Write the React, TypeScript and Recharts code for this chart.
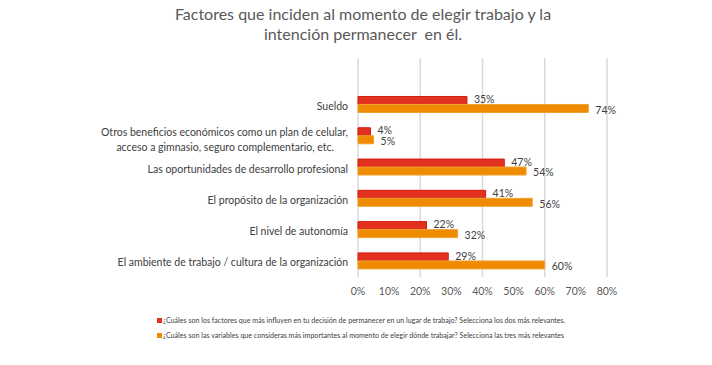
import React from "react"
import { Bar, BarChart, CartesianGrid, LabelList, XAxis, YAxis } from "recharts"

// categories, top to bottom (first row is empty, as in the original)
const categories = [
    "",
    "Sueldo",
    "Otros beneficios económicos como un plan de celular,|acceso a gimnasio, seguro complementario, etc.",
    "Las oportunidades de desarrollo profesional",
    "El propósito de la organización",
    "El nivel de autonomía",
    "El ambiente de trabajo / cultura de la organización",
]

const permanecer = [null, 35, 4, 47, 41, 22, 29]
const elegir = [null, 74, 5, 54, 56, 32, 60]

const xTicks = [0, 10, 20, 30, 40, 50, 60, 70, 80]

const seriesNames = [
    "¿Cuáles son los factores que más influyen en tu decisión de permanecer en un lugar de trabajo? Selecciona los dos más relevantes.",
    "¿Cuáles son las variables que consideras más importantes al momento de elegir dónde trabajar? Selecciona las tres más relevantes",
]

const RED = "#E2321F"
const ORANGE = "#EE8B00"
const FONT = "Lato, 'Open Sans', sans-serif"

const data = categories.map((name, i) => ({
    name,
    permanecer: permanecer[i],
    elegir: elegir[i],
}))

const fmt = (v: any) => (v == null ? "" : `${v}%`)

function CategoryTick({ x, y, payload }: any) {
    const lines = String(payload.value).split("|")
    if (lines.length === 1) {
        return (
            <text x={x} y={y} dy={5} textAnchor="end" fill="#404040" fontSize={10.5} fontFamily={FONT}>
                {lines[0]}
            </text>
        )
    }
    return (
        <text textAnchor="end" fill="#404040" fontSize={10.5} fontFamily={FONT}>
            <tspan x={x} y={y}>{lines[0]}</tspan>
            <tspan x={x - 14} y={y + 15}>{lines[1]}</tspan>
        </text>
    )
}

export default function App() {
    return (
        <div style={{ position: "absolute", left: 0, top: 0, width: 712, height: 365, background: "#fff", fontFamily: FONT }}>
            <div
                style={{
                    position: "absolute",
                    left: 0,
                    top: 4,
                    width: 726,
                    textAlign: "center",
                    fontSize: 16,
                    lineHeight: "20px",
                    color: "#595959",
                }}
            >
                Factores que inciden al momento de elegir trabajo y la
                <br />
                intención permanecer&nbsp; en él.
            </div>
            <BarChart
                width={712}
                height={365}
                data={data}
                layout="vertical"
                margin={{ top: 58, right: 105, bottom: 68, left: 0 }}
                barCategoryGap="23%"
                barGap={0}
            >
                <CartesianGrid horizontal={false} stroke="#D9D9D9" strokeWidth={1.5} />
                <XAxis
                    type="number"
                    domain={[0, 80]}
                    ticks={xTicks}
                    tickFormatter={(v) => `${v}%`}
                    axisLine={false}
                    tickLine={false}
                    tickMargin={5}
                    height={20}
                    tick={{ fill: "#595959", fontSize: 10.5, fontFamily: FONT }}
                />
                <YAxis
                    type="category"
                    dataKey="name"
                    width={358}
                    axisLine={false}
                    tickLine={false}
                    tick={<CategoryTick />}
                    tickMargin={4}
                    interval={0}
                />
                <Bar dataKey="permanecer" fill={RED} stroke="#D41A0E" strokeWidth={1} isAnimationActive={false}>
                    <LabelList dataKey="permanecer" position="right" offset={7} dy={-1} formatter={fmt} fill="#404040" fontSize={10.5} fontFamily={FONT} />
                </Bar>
                <Bar dataKey="elegir" fill={ORANGE} stroke="#F3A233" strokeWidth={1} isAnimationActive={false}>
                    <LabelList dataKey="elegir" position="right" offset={7} dy={1.5} formatter={fmt} fill="#404040" fontSize={10.5} fontFamily={FONT} />
                </Bar>
            </BarChart>
            <div style={{ position: "absolute", left: 157, top: 313, fontSize: 7.1, color: "#404040", lineHeight: "15px" }}>
                {seriesNames.map((n, i) => (
                    <div key={i} style={{ display: "flex", alignItems: "center" }}>
                        <span style={{ width: 5, height: 5, background: i === 0 ? RED : ORANGE, marginRight: 1, display: "inline-block" }} />
                        <span style={{ whiteSpace: "nowrap" }}>{n}</span>
                    </div>
                ))}
            </div>
        </div>
    )
}
